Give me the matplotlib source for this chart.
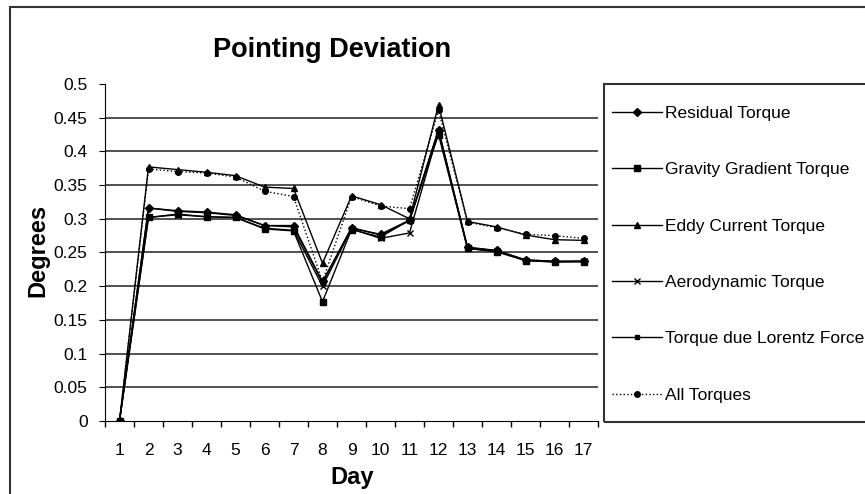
import numpy as np
import matplotlib.pyplot as plt
from matplotlib.patches import Rectangle

plt.rcParams['font.family'] = ['Liberation Sans', 'DejaVu Sans']

days = list(range(1, 18))
residual = [0, 0.316, 0.312, 0.310, 0.306, 0.290, 0.290, 0.207, 0.286, 0.277, 0.298, 0.432, 0.258, 0.253, 0.239, 0.237, 0.237]
gravity = [0, 0.302, 0.307, 0.303, 0.302, 0.285, 0.282, 0.177, 0.284, 0.273, 0.298, 0.425, 0.256, 0.251, 0.238, 0.236, 0.236]
eddy = [0, 0.377, 0.373, 0.369, 0.364, 0.347, 0.345, 0.234, 0.334, 0.321, 0.300, 0.469, 0.296, 0.288, 0.276, 0.269, 0.268]
aero = [0, 0.302, 0.306, 0.303, 0.302, 0.286, 0.283, 0.200, 0.285, 0.271, 0.279, 0.430, 0.256, 0.252, 0.238, 0.236, 0.237]
lorentz = [0, 0.316, 0.311, 0.309, 0.305, 0.290, 0.288, 0.205, 0.287, 0.276, 0.297, 0.432, 0.257, 0.253, 0.239, 0.237, 0.237]
alltorques = [0, 0.374, 0.370, 0.368, 0.362, 0.341, 0.333, 0.207, 0.333, 0.319, 0.315, 0.461, 0.295, 0.287, 0.277, 0.275, 0.271]

series = [
    ("Residual Torque", residual, 'D', '-', 4),
    ("Gravity Gradient Torque", gravity, 's', '-', 4),
    ("Eddy Current Torque", eddy, '^', '-', 5),
    ("Aerodynamic Torque", aero, 'x', '-', 4),
    ("Torque due Lorentz Force", lorentz, 's', '-', 3.5),
    ("All Torques", alltorques, 'o', ':', 4),
]

W, H = 865, 494
fig = plt.figure(figsize=(W/100, H/100), dpi=100)
# outer chart border (top and left visible, rest runs off the image)
fig.patches.append(Rectangle((10/W, -0.1), 1.2, 1 - 7/H + 0.1, transform=fig.transFigure,
                             fill=False, edgecolor='#333333', linewidth=1.5))
# legend box
fig.patches.append(Rectangle((604/W, 1 - 422/H), 0.5, 338/H, transform=fig.transFigure,
                             fill=False, edgecolor='#333333', linewidth=1.5))

ax = fig.add_axes([105/W, (H-421)/H, 493/W, 337/H])
for name, vals, mk, ls, ms in series:
    ax.plot(days, vals, color='black', linestyle=ls, linewidth=1,
            marker=mk, markersize=ms, label=name)

ax.set_xlim(0.5, 17.5)
ax.set_ylim(0, 0.5)
ax.set_yticks(np.arange(0, 0.51, 0.05))
ax.set_yticklabels(['0', '0.05', '0.1', '0.15', '0.2', '0.25', '0.3', '0.35', '0.4', '0.45', '0.5'])
ax.set_xticks(days)
ax.set_xticks(np.arange(0.5, 18, 1), minor=True)
ax.tick_params(axis='x', which='major', length=0, pad=16, labelsize=12.5)
ax.tick_params(axis='x', which='minor', length=4.5, direction='out', width=1)
ax.tick_params(axis='y', length=4.5, direction='out', labelsize=12.5, pad=8)
for sp in ['top', 'right']:
    ax.spines[sp].set_visible(False)
ax.set_axisbelow(True)
for yv in np.arange(0.05, 0.46, 0.05):
    ax.axhline(yv, color='#333333', linewidth=1.2, zorder=0)

fig.text(332/W, 1 - 50/H, "Pointing Deviation", ha='center', va='center',
         fontsize=19.5, fontweight='bold')
fig.text(38/W, 1 - 250/H, "Degrees", ha='center', va='center', rotation=90,
         fontsize=17, fontweight='bold')
fig.text(352/W, 1 - 477/H, "Day", ha='center', va='center',
         fontsize=17, fontweight='bold')

leg = ax.legend(loc='upper left', bbox_to_anchor=(612/W, 1 - 106/H),
                bbox_transform=fig.transFigure, borderaxespad=0, borderpad=0,
                fontsize=12.5, frameon=False, labelspacing=2.37,
                handlelength=2.9, handletextpad=0.15)

fig.savefig("out.png", dpi=100)
